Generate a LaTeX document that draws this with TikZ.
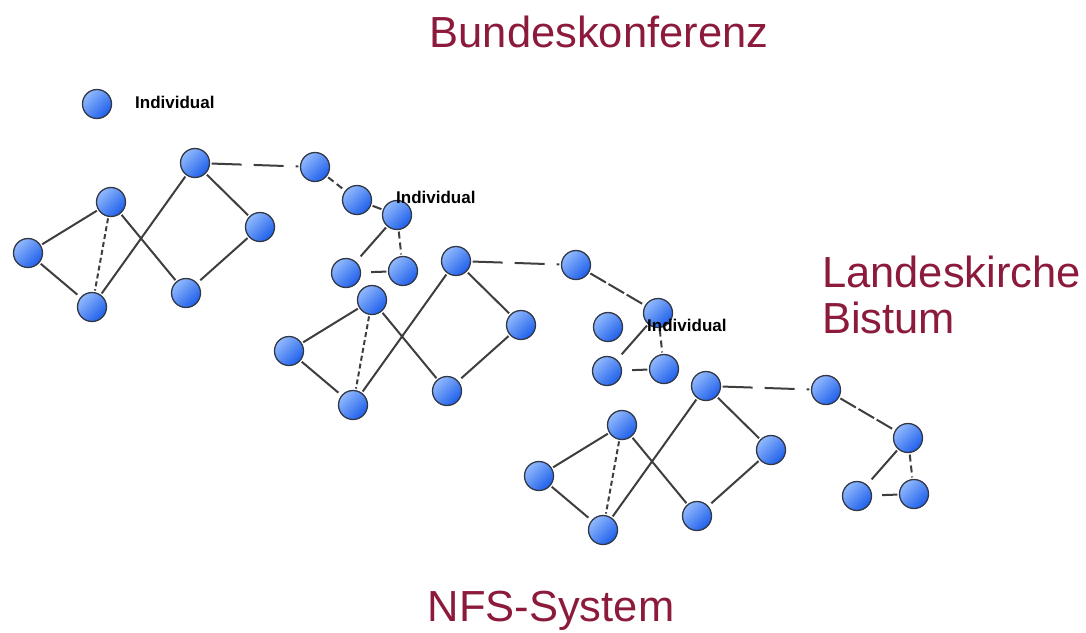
\documentclass[tikz,border=0pt]{standalone}
\usepackage{fontspec}
\setmainfont{Liberation Sans}
\definecolor{titlered}{RGB}{140,26,58}
\definecolor{nlight}{RGB}{145,185,252}
\definecolor{ndark}{RGB}{30,95,235}
\definecolor{edgegray}{RGB}{62,62,62}
\definecolor{nborder}{RGB}{50,55,70}
\newcommand{\netcluster}[3]{%
\begin{scope}[shift={(#2,#3)}, name prefix=#1-]
  \node[person] (a) at (28,253) {};
  \node[person] (b) at (111,202) {};
  \node[person] (c) at (92,307) {};
  \node[person] (d) at (195,163) {};
  \node[person] (e) at (260,227) {};
  \node[person] (f) at (186,293) {};
  \node[person] (g) at (315,167) {};
  \node[person] (i) at (397,215) {};
  \node[person] (j) at (346,273) {};
  \node[person] (k) at (403,271) {};
  \draw[link] (a) -- (b);
  \draw[link, shorten >=4pt] (a) -- (c);
  \draw[fine] (b) -- (c);
  \draw[link] (b) -- (f);
  \draw[link] (c) -- (d);
  \draw[link] (d) -- (e);
  \draw[link, shorten >=4pt] (e) -- (f);
  \draw[longdash] (d) -- (g);
  \draw[link, shorten >=7pt] (i) -- (j);
  \draw[mid] (i) -- (k);
  \draw[link, shorten >=10pt] (k) -- (j);
\end{scope}}
\begin{document}
\begin{tikzpicture}[x=1pt,y=-1pt,
  person/.style={circle, minimum size=29pt, inner sep=0pt, draw=nborder,
    line width=1.3pt, shading=axis, top color=nlight, bottom color=ndark,
    shading angle=45},
  link/.style={draw=edgegray, line width=2pt, shorten >=1.5pt, shorten <=1.5pt},
  fine/.style={link, dash pattern=on 5pt off 3pt},
  mid/.style={link, dash pattern=on 7pt off 4pt},
  soft/.style={link, dash pattern=on 18pt off 3pt},
  longdash/.style={link, dash pattern=on 30pt off 12pt},
  title/.style={text=titlered, font=\fontsize{43.5}{50}\selectfont, inner sep=0pt},
  tag/.style={text=black, font=\fontsize{17}{20}\selectfont\bfseries, inner sep=0pt, anchor=base west}
]
\useasboundingbox (0,0) rectangle (1086,632);

% titles
\node[title, anchor=base] (bk) at (599,47) {Bundeskonferenz};
\node[title, anchor=base west] (lk) at (822,287) {Landeskirche};
\node[title, anchor=base west] (bi) at (822,333) {Bistum};
\node[title, anchor=base] (nfs) at (551,621) {NFS-System};

% legend
\node[person] (legend) at (97,104) {};
\node[tag] (legendtxt) at (135,108) {Individual};

% cluster 1
\netcluster{c1}{0}{0}
\node[person] (c1-h) at (357,200) {};
\draw[mid] (c1-g) -- (c1-h);
\draw[link] (c1-h) -- (c1-i);
\node[tag] (c1-t) at (396,203) {Individual};

% cluster 2
\netcluster{c2}{261}{98}
\draw[soft] (c2-g) -- (c2-i);
\node[person] (c2-x) at (608,327) {};
\node[tag] (c2-t) at (647,331) {Individual};

% cluster 3
\netcluster{c3}{511}{223}
\draw[soft] (c3-g) -- (c3-i);
\end{tikzpicture}
\end{document}
